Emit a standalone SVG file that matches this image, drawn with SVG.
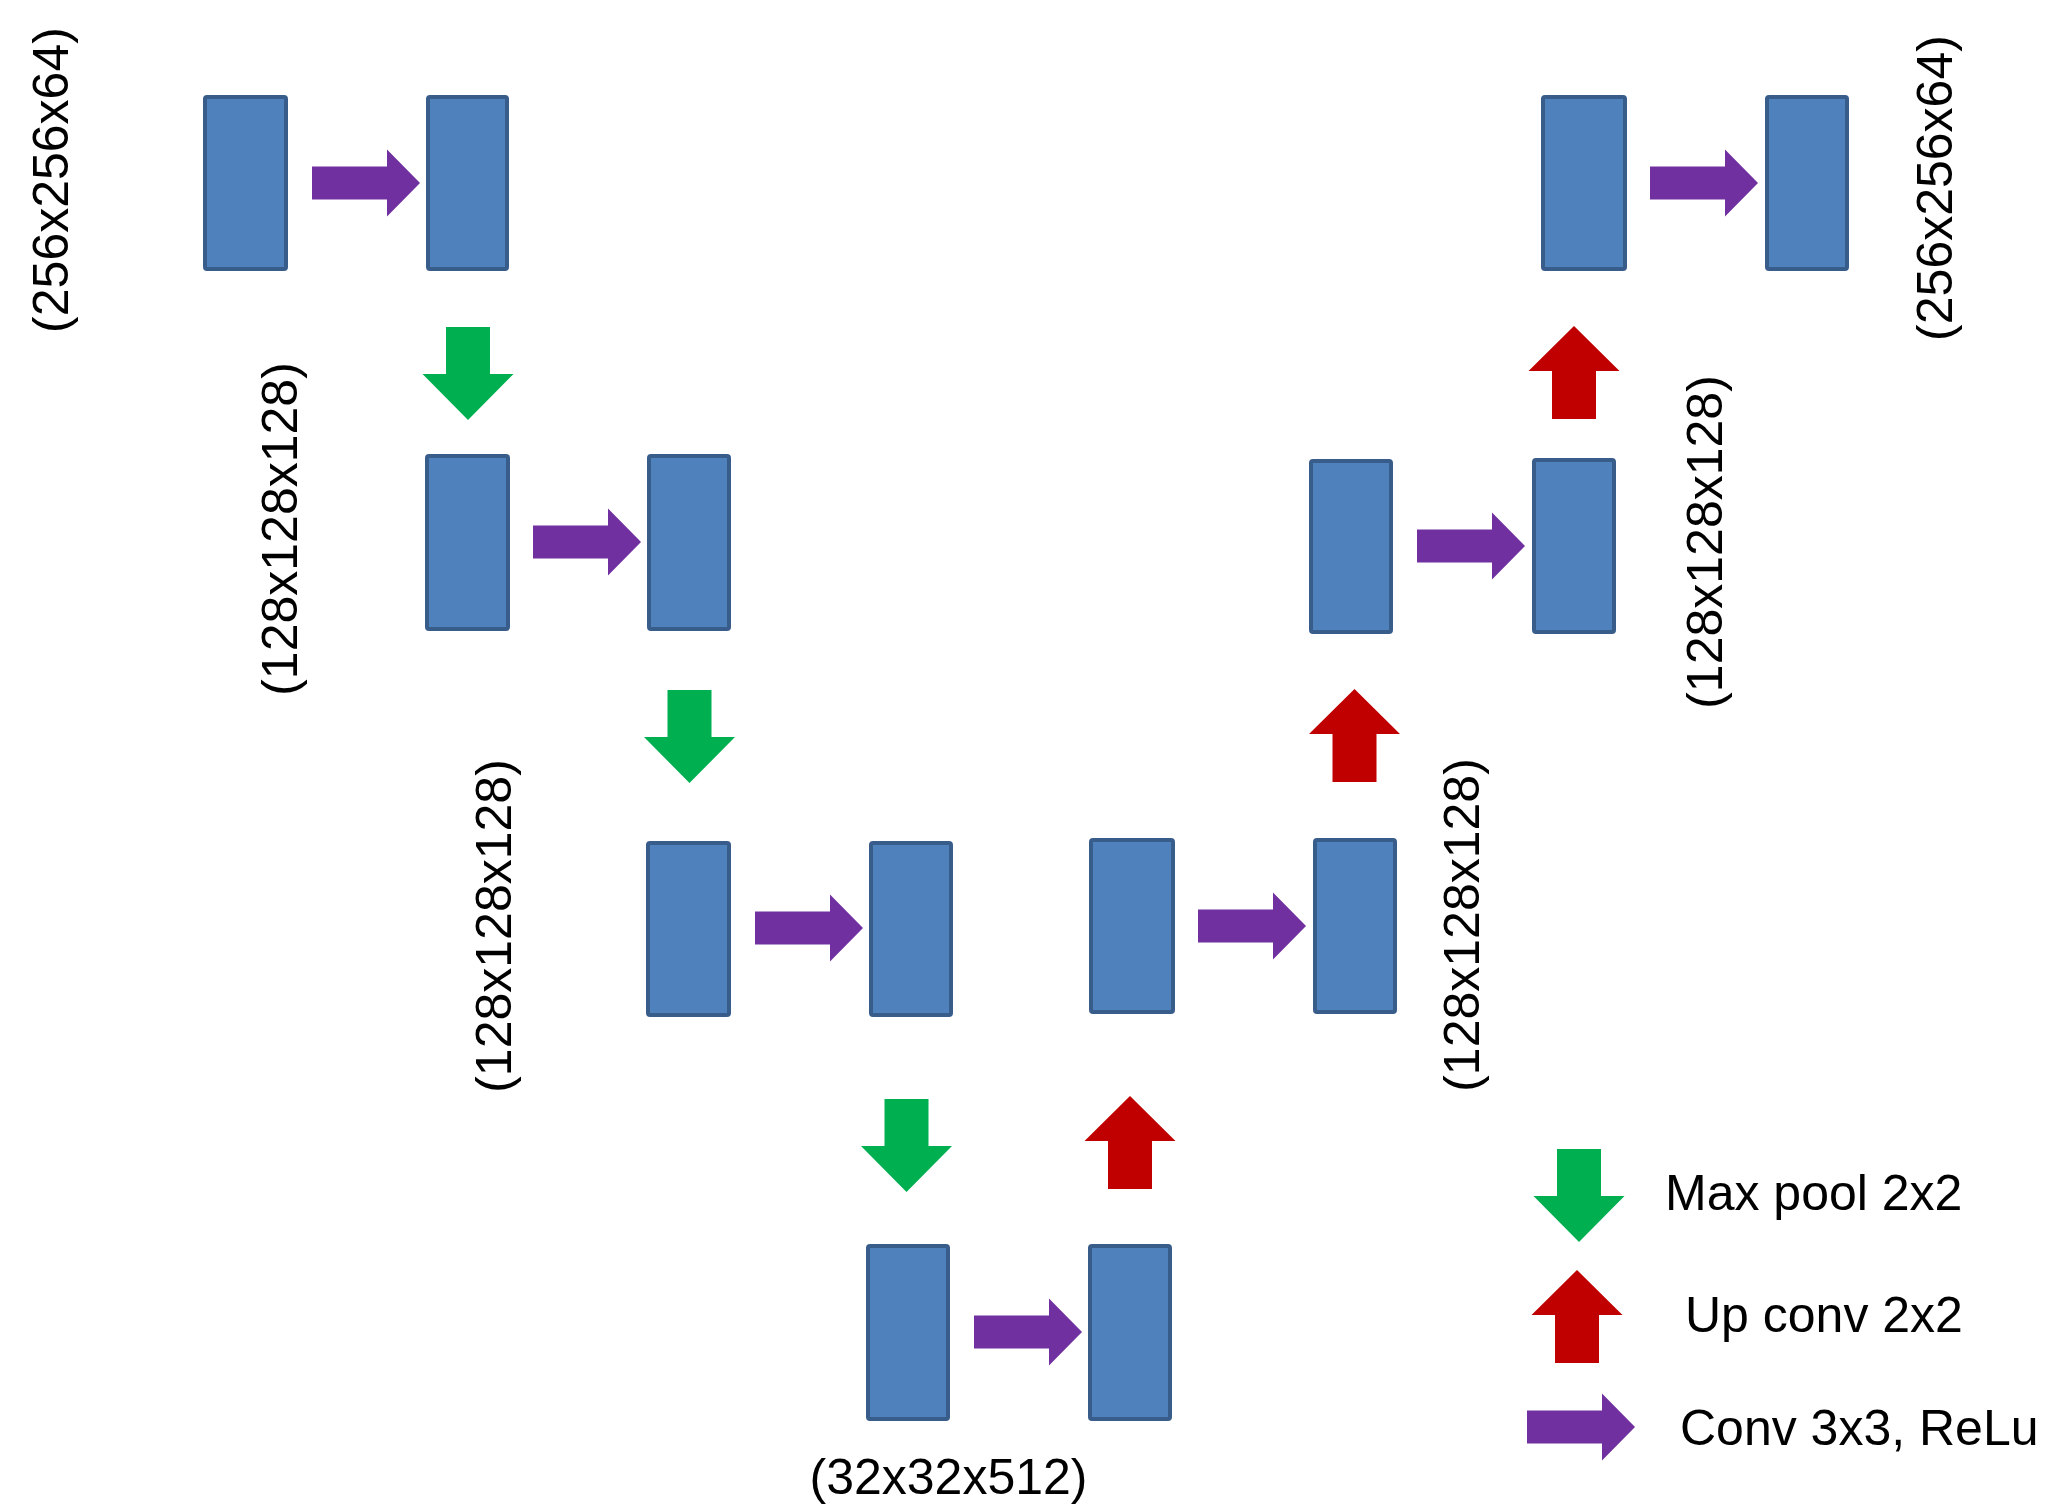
<svg xmlns="http://www.w3.org/2000/svg" xmlns:xlink="http://www.w3.org/1999/xlink" width="2049" height="1507" viewBox="0 0 2049 1507">
<style>
.box{fill:#4F81BD;stroke:#385D8A;stroke-width:4}
.lbl{font-family:"Liberation Sans",Arial,sans-serif;font-size:50px;fill:#000}
.mid{text-anchor:middle}
.conv{fill:#7030A0}
.pool{fill:#00B050}
.up{fill:#C00000}
</style>
<defs>
<path id="pa" d="M0,-16.5 H75 V-33.5 L108,0 L75,33.5 V16.5 H0 Z"/>
<path id="ga" d="M-22,0 H22 V47 H45.5 L0,93 L-45.5,47 H-22 Z"/>
<path id="ra" d="M0,0 L45.5,45 H22 V93 H-22 V45 H-45.5 Z"/>
</defs>
<rect width="2049" height="1507" fill="#fff"/>
<g id="nodes">
<g id="a1"><rect class="box" x="205" y="97" width="81" height="172" rx="2"/></g>
<g id="a2"><rect class="box" x="428" y="97" width="79" height="172" rx="2"/></g>
<g id="b1"><rect class="box" x="427" y="456" width="81" height="173" rx="2"/></g>
<g id="b2"><rect class="box" x="649" y="456" width="80" height="173" rx="2"/></g>
<g id="c1"><rect class="box" x="648" y="843" width="81" height="172" rx="2"/></g>
<g id="c2"><rect class="box" x="871" y="843" width="80" height="172" rx="2"/></g>
<g id="d1"><rect class="box" x="868" y="1246" width="80" height="173" rx="2"/></g>
<g id="d2"><rect class="box" x="1090" y="1246" width="80" height="173" rx="2"/></g>
<g id="e1"><rect class="box" x="1091" y="840" width="82" height="172" rx="2"/></g>
<g id="e2"><rect class="box" x="1315" y="840" width="80" height="172" rx="2"/></g>
<g id="f1"><rect class="box" x="1311" y="461" width="80" height="171" rx="2"/></g>
<g id="f2"><rect class="box" x="1534" y="460" width="80" height="172" rx="2"/></g>
<g id="g1"><rect class="box" x="1543" y="97" width="82" height="172" rx="2"/></g>
<g id="g2"><rect class="box" x="1767" y="97" width="80" height="172" rx="2"/></g>
</g>
<g id="connectors">
<use xlink:href="#pa" class="conv" x="312" y="183"/>
<use xlink:href="#pa" class="conv" x="533" y="542"/>
<use xlink:href="#pa" class="conv" x="755" y="928"/>
<use xlink:href="#pa" class="conv" x="974" y="1332"/>
<use xlink:href="#pa" class="conv" x="1198" y="926"/>
<use xlink:href="#pa" class="conv" x="1417" y="546"/>
<use xlink:href="#pa" class="conv" x="1650" y="183"/>
<use xlink:href="#ga" class="pool" x="468" y="327"/>
<use xlink:href="#ga" class="pool" x="689.5" y="690"/>
<use xlink:href="#ga" class="pool" x="906.5" y="1099"/>
<use xlink:href="#ra" class="up" x="1130" y="1096"/>
<use xlink:href="#ra" class="up" x="1354.5" y="689"/>
<use xlink:href="#ra" class="up" x="1574" y="326"/>
</g>
<g id="labels">
<text class="lbl mid" transform="translate(68,180) rotate(-90)">(256x256x64)</text>
<text class="lbl mid" transform="translate(297,529) rotate(-90)">(128x128x128)</text>
<text class="lbl mid" transform="translate(511,926) rotate(-90)">(128x128x128)</text>
<text class="lbl mid" transform="translate(1479,925) rotate(-90)">(128x128x128)</text>
<text class="lbl mid" transform="translate(1722,542) rotate(-90)">(128x128x128)</text>
<text class="lbl mid" transform="translate(1952,188) rotate(-90)">(256x256x64)</text>
<text class="lbl mid" x="948.5" y="1494">(32x32x512)</text>
</g>
<g id="legend">
<use xlink:href="#ga" class="pool" x="1579" y="1149"/>
<use xlink:href="#ra" class="up" x="1577" y="1270"/>
<use xlink:href="#pa" class="conv" x="1527" y="1427"/>
<text class="lbl" x="1665" y="1210">Max pool 2x2</text>
<text class="lbl" x="1685" y="1332">Up conv 2x2</text>
<text class="lbl" x="1680" y="1445">Conv 3x3, ReLu</text>
</g>
</svg>
